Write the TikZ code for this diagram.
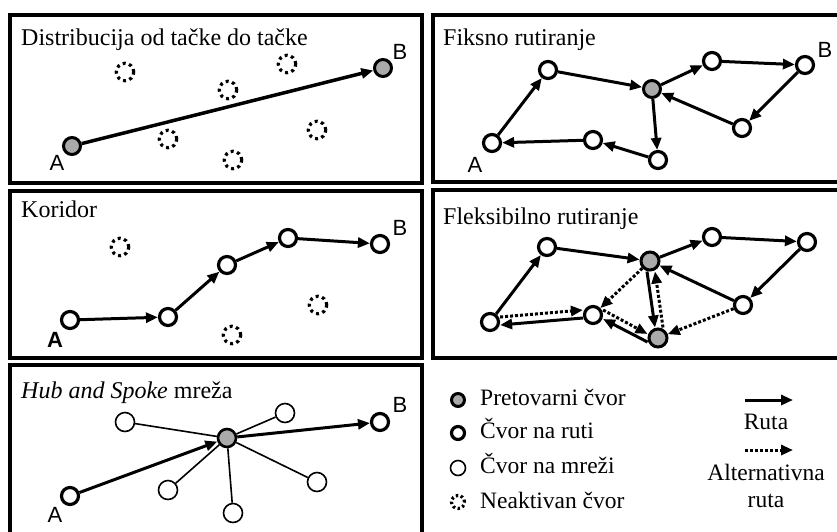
\documentclass[tikz,border=0pt]{standalone}
\usepackage{fontspec}
\setmainfont{Liberation Serif}
\newfontfamily\labfont{Liberation Sans}
\usetikzlibrary{arrows.meta}
\definecolor{hubgray}{RGB}{170,170,170}
\begin{document}
\begin{tikzpicture}[x=1pt,y=-1pt,
 panel/.style={draw, line width=3.6pt},
 title/.style={anchor=base west, font=\fontsize{24}{26}\selectfont, inner sep=0},
 legtext/.style={anchor=base west, font=\fontsize{23.5}{26}\selectfont, inner sep=0},
 legc/.style={anchor=base, font=\fontsize{23.5}{26}\selectfont, inner sep=0},
 hubn/.style={circle, draw, line width=3pt, fill=hubgray, minimum size=17pt, inner sep=0},
 routen/.style={circle, draw, line width=3.2pt, fill=white, minimum size=17pt, inner sep=0},
 netn/.style={circle, draw, line width=1.6pt, fill=white, minimum size=19pt, inner sep=0},
 offn/.style={circle, draw, line width=3.2pt, dash pattern=on 3pt off 3.5pt, minimum size=17.5pt, inner sep=0},
 ab/.style={font=\labfont\fontsize{22}{24}\selectfont, inner sep=0},
 route/.style={line width=3pt, -{Triangle[length=12pt,width=10pt]}},
 alt/.style={line width=3pt, dash pattern=on 3pt off 2pt, -{Triangle[length=12pt,width=10pt]}},
 spoke/.style={line width=1.6pt},
]
\useasboundingbox (0,0) rectangle (837,531);
\clip (0,0) rectangle (837,531);

% ---------- panel 1 ----------
\draw[panel] (10,15) rectangle (422,183);
\node[title] (t1) at (21,45) {Distribucija od tačke do tačke};
\node[hubn] (p1a) at (72,146) {};
\node[hubn] (p1b) at (383,68) {};
\node[ab] (p1al) at (57,163) {A};
\node[ab] (p1bl) at (400,52) {B};
\foreach \n/\p in {1/{(125,72)},2/{(228,90)},3/{(287,64)},4/{(168,139)},5/{(233,160)},6/{(317,130)}}
  \node[offn] (p1o\n) at \p {};
\draw[route, line width=3.5pt] (p1a) -- (p1b);

% ---------- panel 2 ----------
\draw[panel] (433,15) rectangle (840,182);
\node[title] (t2) at (443,45) {Fiksno rutiranje};
\node[routen] (f1) at (492,143) {};
\node[routen] (f2) at (548,70) {};
\node[hubn]   (f3) at (652,89) {};
\node[routen] (f4) at (712,61) {};
\node[routen] (f5) at (805,65) {};
\node[routen] (f6) at (742,128) {};
\node[routen] (f7) at (658,160) {};
\node[routen] (f8) at (593,140) {};
\node[ab] (f1l) at (475,165) {A};
\node[ab] (f5l) at (825,50) {B};
\draw[route] (f1) -- (f2);
\draw[route] (f2) -- (f3);
\draw[route] (f3) -- (f4);
\draw[route] (f4) -- (f5);
\draw[route] (f5) -- (f6);
\draw[route] (f6) -- (f3);
\draw[route] (f3) -- (f7);
\draw[route] (f7) -- (f8);
\draw[route] (f8) -- (f1);

% ---------- panel 3 ----------
\draw[panel] (10,191) rectangle (422,358);
\node[title] (t3) at (21,217) {Koridor};
\node[routen] (k1) at (70,320) {};
\node[routen] (k2) at (168,317) {};
\node[routen] (k3) at (227,265) {};
\node[routen] (k4) at (288,238) {};
\node[routen] (k5) at (380,244) {};
\node[offn] (ko1) at (120,247) {};
\node[offn] (ko2) at (232,335) {};
\node[offn] (ko3) at (318,305) {};
\node[ab,font=\labfont\bfseries\fontsize{22}{24}\selectfont] (k1l) at (55,340) {A};
\node[ab] (k5l) at (400,228) {B};
\draw[route] (k1) -- (k2);
\draw[route] (k2) -- (k3);
\draw[route] (k3) -- (k4);
\draw[route] (k4) -- (k5);

% ---------- panel 4 ----------
\draw[panel] (433,190) rectangle (840,358);
\node[title] (t4) at (443,224) {Fleksibilno rutiranje};
\node[routen] (x1) at (490,322) {};
\node[routen] (x2) at (547,247) {};
\node[hubn, minimum size=18pt]   (x3) at (650,261) {};
\node[routen] (x4) at (712,237) {};
\node[routen] (x5) at (807,242) {};
\node[routen] (x6) at (743,305) {};
\node[hubn, minimum size=18pt]   (x7) at (658,338) {};
\node[routen] (x8) at (593,315) {};
\draw[route] (x1) -- (x2);
\draw[route] (x2) -- (x3);
\draw[route] (x3) -- (x4);
\draw[route] (x4) -- (x5);
\draw[route] (x5) -- (x6);
\draw[route] (x6) -- (x3);
\draw[route] ([xshift=-3pt]x3.south) -- ([xshift=-3pt]x7.north);
\draw[route] ([yshift=-4pt]x7.west) -- ([yshift=-4pt]x8.east);
\draw[route] ([yshift=-3pt]x8.west) -- ([yshift=-3pt]x1.east);
\draw[alt] (x3) -- (x8);
\draw[alt] ([yshift=5pt]x1.east) -- ([yshift=5pt]x8.west);
\draw[alt] ([yshift=5pt]x8.east) -- ([yshift=4pt]x7.west);
\draw[alt] ([xshift=5pt]x7.north) -- ([xshift=5pt]x3.south);
\draw[alt] (x6) -- (x7);

% ---------- panel 5 ----------
\draw[panel] (10,365) rectangle (422,545);
\node[title] (t5) at (21,398) {\itshape Hub and Spoke\/ \upshape mreža};
\node[hubn, line width=2.6pt, minimum size=18pt] (h0) at (227,438) {};
\node[routen] (hA) at (70,496) {};
\node[routen] (hB) at (380,422) {};
\node[netn] (h1) at (125,422) {};
\node[netn] (h2) at (285,413) {};
\node[netn] (h3) at (168,490) {};
\node[netn] (h4) at (233,513) {};
\node[netn] (h5) at (317,482) {};
\node[ab] (hAl) at (55,515) {A};
\node[ab] (hBl) at (400,405) {B};
\foreach \n in {h1,h2,h3,h4,h5}
  \draw[spoke] (h0) -- (\n);
\draw[route] (hA) -- (h0);
\draw[route] (h0) -- (hB);

% ---------- legend ----------
\node[hubn, minimum size=13pt] (l1) at (458,400) {};
\node[routen, minimum size=13pt] (l2) at (458,433) {};
\node[netn, minimum size=15pt] (l3) at (458,468) {};
\node[offn, minimum size=13pt, dash pattern=on 2.4pt off 2.6pt] (l4) at (458,502) {};
\node[legtext] (l1t) at (480,405) {Pretovarni čvor};
\node[legtext] (l2t) at (480,438) {Čvor na ruti};
\node[legtext] (l3t) at (480,473) {Čvor na mreži};
\node[legtext] (l4t) at (480,508) {Neaktivan čvor};
\coordinate (r1s) at (745,400);
\coordinate (r1e) at (793,400);
\coordinate (r2s) at (745,450);
\coordinate (r2e) at (793,450);
\draw[route] (r1s) -- (r1e);
\draw[alt] (r2s) -- (r2e);
\node[legc] (rt) at (766,429) {Ruta};
\node[legc] (at1) at (766,480) {Alternativna};
\node[legc] (at2) at (766,507) {ruta};
\end{tikzpicture}
\end{document}
